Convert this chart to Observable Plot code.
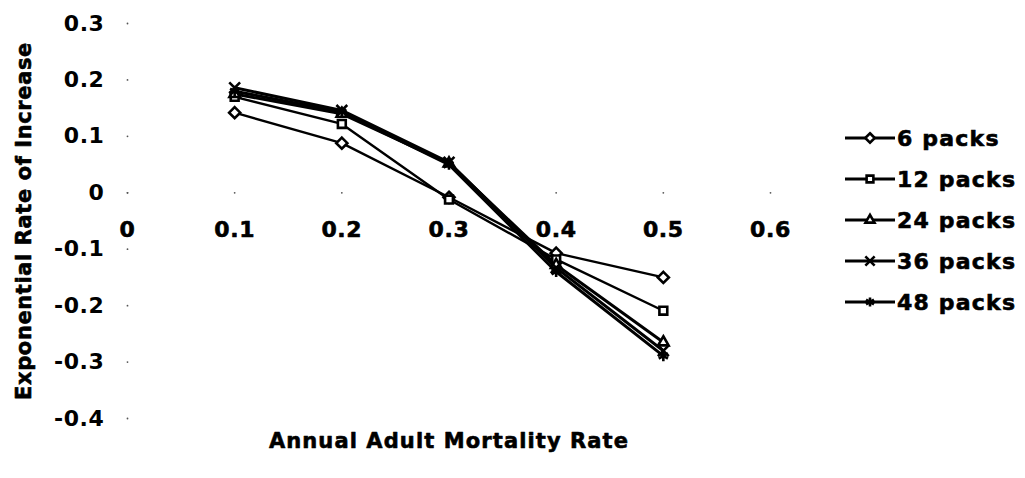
<!DOCTYPE html>
<html>
<head>
<meta charset="utf-8">
<script src="https://cdn.jsdelivr.net/npm/d3@7"></script>
<script src="https://cdn.jsdelivr.net/npm/@observablehq/plot@0.6"></script>
<style>
  html, body { margin: 0; padding: 0; background: #fff; }
  #chart { position: relative; width: 1025px; height: 478px; }
</style>
</head>
<body>
<div id="chart"></div>
<script>
// Annual adult mortality rate (x) and exponential rate of increase for each pack count
const mortality = [0.1, 0.2, 0.3, 0.4, 0.5];
const packs6  = [0.142, 0.088, -0.008, -0.107, -0.150];
const packs12 = [0.170, 0.122, -0.012, -0.118, -0.209];
const packs24 = [0.175, 0.140, 0.052, -0.128, -0.265];
const packs36 = [0.186, 0.146, 0.054, -0.133, -0.280];
const packs48 = [0.180, 0.143, 0.050, -0.140, -0.289];

const seriesNames = ["6 packs", "12 packs", "24 packs", "36 packs", "48 packs"];
const seriesValues = [packs6, packs12, packs24, packs36, packs48];
const seriesSymbols = ["diamond2", "square2", "triangle2", "times", "asterisk"];
const seriesWidths = [2.4, 2.4, 3, 3, 3];

const xTicks = [0, 0.1, 0.2, 0.3, 0.4, 0.5, 0.6];
const yTicks = [-0.4, -0.3, -0.2, -0.1, 0, 0.1, 0.2, 0.3];

const xTitle = "Annual Adult Mortality Rate";
const yTitle = "Exponential Rate of Increase";

// long table: one row per (series, mortality) point
const rows = seriesNames.flatMap((name, i) =>
  mortality.map((m, j) => ({series: name, idx: i, x: m, y: seriesValues[i][j]}))
);

const font = "DejaVu Sans";
// a thin outline thickens the bold glyphs slightly
const heavy = {fontWeight: "bold", fill: "black", stroke: "black", strokeWidth: 0.6};

const lineMarks = seriesNames.map((name, i) =>
  Plot.line(rows.filter(r => r.idx === i), {
    x: "x", y: "y", stroke: "black", strokeWidth: seriesWidths[i]
  })
);
const dotMarks = seriesNames.map((name, i) =>
  Plot.dot(rows.filter(r => r.idx === i), {
    x: "x", y: "y", symbol: () => seriesSymbols[i], r: 5,
    stroke: "black", strokeWidth: 2.6,
    fill: i === 4 ? "black" : "white"
  })
);

const chart = Plot.plot({
  width: 1025,
  height: 478,
  marginLeft: 127,
  marginRight: 255,
  marginTop: 23,
  marginBottom: 60,
  x: {domain: [0, 0.6], axis: null},
  y: {domain: [-0.4, 0.3]},
  symbol: {type: "identity"},
  style: {fontFamily: font, fontWeight: "bold", fontSize: "22px", color: "black", background: "white"},
  marks: [
    // y-axis labels with tiny tick dots
    Plot.axisY(yTicks, {
      tickSize: 0, tickPadding: 23, tickFormat: d => String(d),
      fontSize: 22, label: null, ...heavy
    }),
    Plot.dot(yTicks, {x: 0, y: d => d, r: 0.9, fill: "#555", stroke: null}),
    // faint x axis along y = 0
    Plot.dot(xTicks, {x: d => d, y: 0, r: 0.9, fill: "#555", stroke: null}),
    Plot.text(xTicks, {
      x: d => d, y: 0, dy: 37, text: d => String(d),
      fontSize: 22, ...heavy
    }),
    ...lineMarks,
    ...dotMarks,
    // axis titles
    Plot.text([xTitle], {
      frameAnchor: "bottom", dy: 29, text: d => d, textAnchor: "middle",
      fontSize: 21, ...heavy
    }),
    Plot.text([yTitle], {
      frameAnchor: "left", dx: -103, rotate: -90, text: d => d, textAnchor: "middle",
      fontSize: 21, ...heavy
    })
  ]
});

document.getElementById("chart").appendChild(chart);

const svg = d3.select(chart);
svg.selectAll("text").style("letter-spacing", "0.6px");
// x title is spread a little wider
svg.selectAll("text").filter(function() { return this.textContent === xTitle; })
  .style("letter-spacing", "1.1px");

// legend: line segment with the series symbol, followed by the series name
const symbolMap = {
  diamond2: d3.symbolDiamond2,
  square2: d3.symbolSquare2,
  triangle2: d3.symbolTriangle2,
  times: d3.symbolTimes,
  asterisk: d3.symbolAsterisk
};
const legend = svg.append("g").attr("transform", "translate(845,138)");
seriesNames.forEach((name, i) => {
  const g = legend.append("g").attr("transform", `translate(0,${i * 41})`);
  g.append("line").attr("x1", 0).attr("x2", 50).attr("y1", 0).attr("y2", 0)
    .attr("stroke", "black").attr("stroke-width", 3);
  g.append("path")
    .attr("d", d3.symbol(symbolMap[seriesSymbols[i]], Math.PI * 4.3 * 4.3)())
    .attr("transform", "translate(25,0)")
    .attr("fill", i === 4 ? "black" : "white")
    .attr("stroke", "black").attr("stroke-width", 2.6);
  g.append("text").attr("x", 52).attr("y", 0).attr("dy", "0.36em")
    .attr("text-anchor", "start")
    .attr("font-family", font).attr("font-weight", "bold").attr("font-size", 22)
    .attr("stroke", "black").attr("stroke-width", 0.6)
    .style("letter-spacing", "1.2px")
    .attr("fill", "black").text(name);
});
</script>
</body>
</html>
